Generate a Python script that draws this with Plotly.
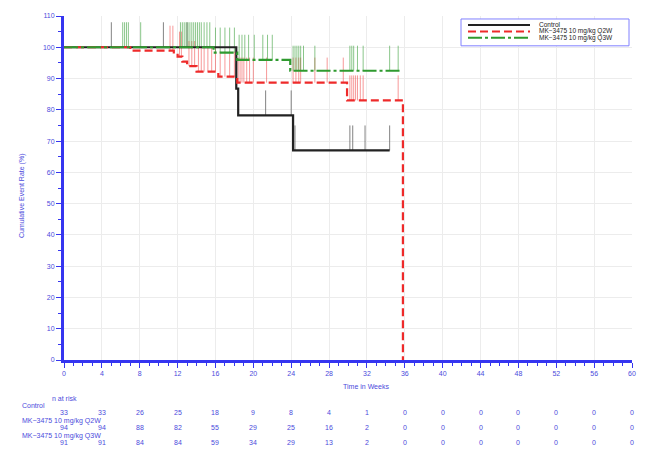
import numpy as np
import plotly.graph_objects as go

# ---------------- data ----------------
ctrl_t = [0, 18.2, 18.4, 24.2, 34.4]
ctrl_s = [100, 86.8, 78.2, 67.0, 67.0]
ctrl_cens = [5.0, 10.5, 13.0, 18.2, 21.3, 24.0, 24.4, 30.2, 30.5, 31.8, 34.4]

q2w_t = [0, 7.0, 11.6, 12.0, 12.5, 13.0, 14.0, 16.3, 18.3, 29.9, 35.8]
q2w_s = [100, 98.9, 98.0, 97.0, 95.4, 94.0, 92.2, 90.6, 88.7, 83.0, 0.0]
q2w_cens = [11.2, 11.5, 12.2, 12.4, 13.2, 13.5, 13.8, 14.2, 14.5, 14.8, 15.2,
            15.6, 16.0, 16.5, 17.0, 17.5, 18.0, 18.4, 18.6, 18.8, 19.0, 19.3,
            19.6, 20.0, 21.4, 24.2, 24.5, 24.8, 25.0, 26.5, 27.8, 29.5, 30.2,
            30.4, 30.6, 30.8, 31.0, 31.3, 31.6, 35.3]

q3w_t = [0, 15.8, 18.3, 23.9, 35.5]
q3w_s = [100, 98.3, 96.0, 92.5, 92.5]
q3w_cens = [6.2, 6.4, 6.6, 6.8, 8.1, 12.3, 12.5, 12.7, 12.9, 13.1, 13.3, 13.5,
            13.7, 13.9, 14.1, 14.3, 14.5, 14.8, 15.1, 15.4, 16.0, 16.5, 17.0,
            17.5, 18.0, 18.5, 18.8, 19.1, 19.5, 20.1, 21.0, 21.5, 22.0, 24.2,
            24.4, 24.6, 24.8, 25.0, 25.3, 26.5, 30.2, 30.4, 30.6, 31.0, 31.6,
            34.4, 35.3]

risk_weeks = [0, 4, 8, 12, 16, 20, 24, 28, 32, 36, 40, 44, 48, 52, 56, 60]
risk_ctrl = [33, 33, 26, 25, 18, 9, 8, 4, 1, 0, 0, 0, 0, 0, 0, 0]
risk_q2w = [94, 94, 88, 82, 55, 29, 25, 16, 2, 0, 0, 0, 0, 0, 0, 0]
risk_q3w = [91, 91, 84, 84, 59, 34, 29, 13, 2, 0, 0, 0, 0, 0, 0, 0]

names = ["Control", "MK\u22123475 10 mg/kg Q2W", "MK\u22123475 10 mg/kg Q3W"]
x_ticks = list(range(0, 61, 4))
y_ticks = list(range(0, 111, 10))

# ---------------- helpers ----------------
W, H = 648, 467
ML, MR, MT, MB = 64, 16, 14, 107
PW, PH = W - ML - MR, H - MT - MB
BLUE = "#3535f0"
TXT = "#4b4bdc"
FONT = "Liberation Sans, Arial, sans-serif"


def px(xp):
    return (xp - ML) / PW


def py(yp):
    return (H - MB - yp) / PH


def level(times, vals, t):
    i = np.searchsorted(np.asarray(times), t, side="right") - 1
    return vals[max(i, 0)]


def cens_xy(times, vals, cens, h=8.0):
    xs, ys = [], []
    for c in cens:
        b = level(times, vals, c)
        xs += [c, c, None]
        ys += [b, b + h, None]
    return xs, ys


fig = go.Figure()

series = [
    (ctrl_t, ctrl_s, ctrl_cens, "#222222", "solid", "rgba(90,90,90,0.75)"),
    (q2w_t, q2w_s, q2w_cens, "#ee2a2a", "8px,4px", "rgba(240,70,70,0.55)"),
    (q3w_t, q3w_s, q3w_cens, "#2f9a2f", "14px,3px,3px,3px", "rgba(60,160,60,0.6)"),
]

for (t, s, c, col, dash, ccol), nm in zip(series, names):
    cx, cy = cens_xy(t, s, c)
    fig.add_trace(go.Scatter(x=cx, y=cy, mode="lines", line=dict(color=ccol, width=1),
                             showlegend=False, hoverinfo="skip"))
for (t, s, c, col, dash, ccol), nm in zip(series, names):
    fig.add_trace(go.Scatter(x=t, y=s, mode="lines", line=dict(color=col, width=2.2, dash=dash, shape="hv"),
                             name=nm, showlegend=False))

fig.update_xaxes(range=[0, 60], tickvals=x_ticks, showgrid=True, gridcolor="#ececec", gridwidth=1,
                 showline=True, linecolor=BLUE, linewidth=3, ticks="outside", ticklen=5,
                 tickcolor=BLUE, tickwidth=1, tickfont=dict(size=7, color=TXT, family=FONT),
                 minor=dict(dtick=1, ticks="outside", ticklen=3, tickcolor=BLUE, showgrid=False),
                 zeroline=False)
fig.update_yaxes(range=[0, 110], tickvals=y_ticks, showgrid=True, gridcolor="#ececec", gridwidth=1,
                 showline=True, linecolor=BLUE, linewidth=3, ticks="outside", ticklen=5,
                 tickcolor=BLUE, tickwidth=1, tickfont=dict(size=7, color=TXT, family=FONT),
                 minor=dict(dtick=5, ticks="outside", ticklen=3, tickcolor=BLUE, showgrid=False),
                 zeroline=False)

ann = []
f7 = dict(size=7, color=TXT, family=FONT)
ann.append(dict(text="Cumulative Event Rate (%)", textangle=-90, xref="paper", yref="paper",
                x=px(22), y=py(195), xanchor="center", yanchor="middle", showarrow=False, font=f7))
ann.append(dict(text="Time in Weeks", xref="paper", yref="paper", x=px(366), y=py(387),
                xanchor="center", yanchor="middle", showarrow=False, font=f7))
ann.append(dict(text="n at risk", xref="paper", yref="paper", x=px(64), y=py(399),
                xanchor="center", yanchor="middle", showarrow=False, font=f7))
label_y = [406, 421, 436]
row_y = [413, 428, 443]
for nm, ly in zip(names, label_y):
    ann.append(dict(text=nm, xref="paper", yref="paper", x=px(20), y=py(ly), xanchor="left",
                    yanchor="middle", showarrow=False, font=f7))
for vals, ry in zip([risk_ctrl, risk_q2w, risk_q3w], row_y):
    for wk, v in zip(risk_weeks, vals):
        ann.append(dict(text=str(v), xref="x", yref="paper", x=wk, y=py(ry),
                        xanchor="center", yanchor="middle", showarrow=False, font=f7))

# legend (drawn manually)
shapes = [dict(type="rect", xref="paper", yref="paper", x0=px(461), x1=px(629), y0=py(44), y1=py(17),
               line=dict(color="#8080ff", width=1), fillcolor="white", layer="above")]
leg_y = [23, 29.5, 36]
for (t, s, c, col, dash, ccol), nm, ly in zip(series, names, leg_y):
    shapes.append(dict(type="line", xref="paper", yref="paper", x0=px(468), x1=px(530), y0=py(ly), y1=py(ly),
                       line=dict(color=col, width=2, dash=dash), layer="above"))
    ann.append(dict(text=nm, xref="paper", yref="paper", x=px(537), y=py(ly), xanchor="left",
                    yanchor="middle", showarrow=False, font=dict(size=6.5, color="#222222", family=FONT)))

fig.update_layout(width=W, height=H, autosize=False,
                  margin=dict(l=ML, r=MR, t=MT, b=MB),
                  paper_bgcolor="white", plot_bgcolor="white",
                  annotations=ann, shapes=shapes, showlegend=False)

fig.write_html("out.html")
